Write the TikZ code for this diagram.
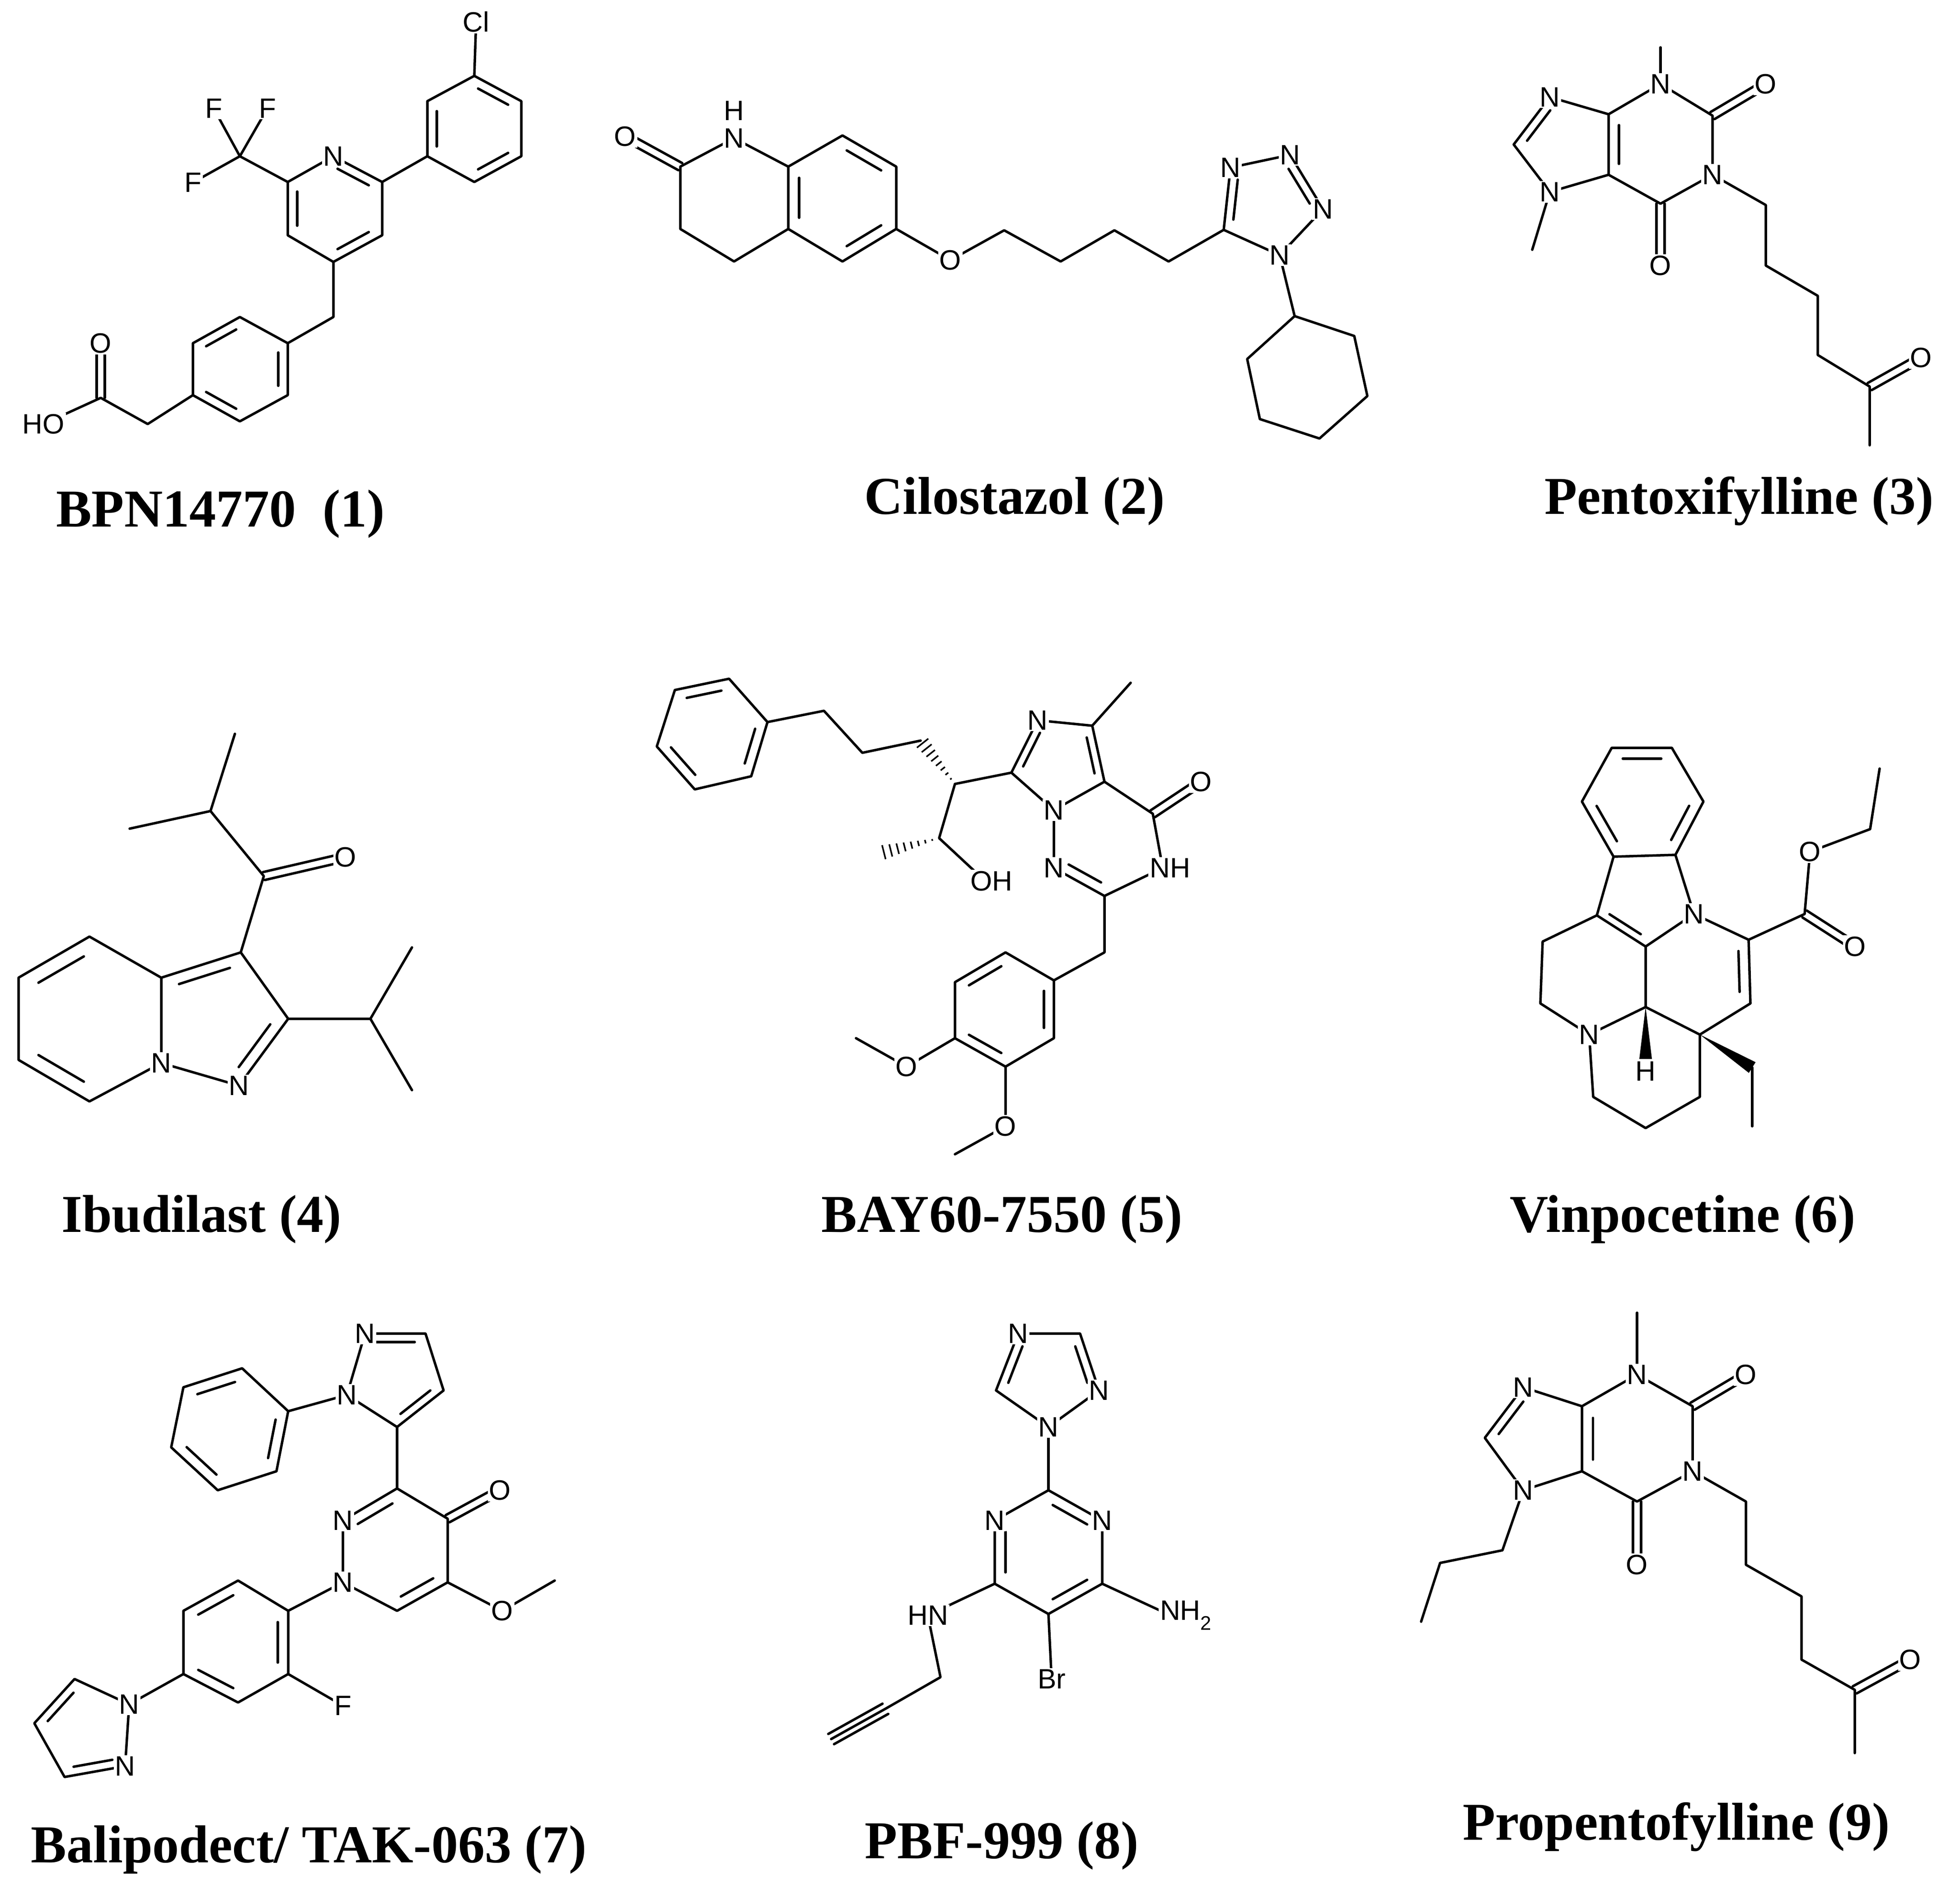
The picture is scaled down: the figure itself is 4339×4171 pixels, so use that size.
\documentclass[tikz,border=0pt]{standalone}
\usepackage{fontspec}
\setmainfont{Liberation Serif}
\setsansfont{Liberation Sans}
\usetikzlibrary{calc}
\newcommand\DB[3]{\path ($(#1)!0.2!(#3)$) coordinate (tA) ($(#2)!0.2!(#3)$) coordinate (tB); \draw[bond] ($(tA)!0.1!(tB)$) -- ($(tB)!0.1!(tA)$);}
\newcommand\DO[2]{\draw[bond] ($(#1)!9pt!90:(#2)$) -- ($(#2)!9pt!-90:(#1)$); \draw[bond] ($(#1)!9pt!-90:(#2)$) -- ($(#2)!9pt!90:(#1)$);}
\newcommand\HW[2]{\foreach \i in {1,...,8}{\path ($(#1)!\i/8.5!(#2)$) coordinate (hP); \draw[line width=3.5pt] ($(hP)!\i*2pt!90:(#2)$) -- ($(hP)!\i*2pt!-90:(#2)$);}}
\newcommand\SW[2]{\fill (#1) -- ($(#2)!14pt!90:(#1)$) -- ($(#2)!14pt!-90:(#1)$) -- cycle;}
\tikzset{bond/.style={line width=5.5pt,line cap=round,line join=round},
 atom/.style={fill=white,inner sep=3pt,font=\fontsize{62}{66}\selectfont\sffamily},
 capt/.style={font=\fontsize{118}{125}\selectfont\bfseries}}
\begin{document}
\begin{tikzpicture}[x=1pt,y=-1pt]
\useasboundingbox[fill=white] (0,0) rectangle (4339,4171);
% ---------- 1 BPN14770
\draw[bond] (1054,48)--(1050,168);
\draw[bond] (1050,168)--(1154,224)--(1154,346)--(1050,403)--(946,346)--(946,224)--cycle;
\DB{1050,168}{1154,224}{1050,286}\DB{1154,346}{1050,403}{1050,286}\DB{946,346}{946,224}{1050,286}
\draw[bond] (738,346)--(846,403)--(846,521)--(738,580)--(637,521)--(637,403)--cycle;
\DB{738,346}{846,403}{741,462}\DB{846,521}{738,580}{741,462}\DB{637,521}{637,403}{741,462}
\draw[bond] (846,403)--(946,346);
\draw[bond] (637,403)--(531,346)--(473,240) (531,346)--(592,240) (531,346)--(427,404);
\draw[bond] (738,580)--(738,702)--(637,760);
\draw[bond] (637,760)--(637,875)--(531,933)--(427,875)--(427,760)--(531,702)--cycle;
\DB{531,702}{427,760}{532,817}\DB{637,760}{637,875}{532,817}\DB{531,933}{427,875}{532,817}
\draw[bond] (427,875)--(327,939)--(223,881)--(96,939);
\DO{223,881}{223,760}
\node[atom] at (1054,48) {Cl};
\node[atom] at (738,346) {N};
\node[atom] at (473,240) {F};\node[atom] at (592,240) {F};\node[atom] at (427,404) {F};
\node[atom] at (223,760) {O};\node[atom] at (96,939) {HO};
\node[capt] at (488,1138) {BPN14770\ \ (1)};
% ---------- 2 Cilostazol
\draw[bond] (1625,306)--(1506,369)--(1506,507)--(1625,579)--(1745,507)--(1745,369)--cycle;
\draw[bond] (1745,369)--(1865,300)--(1984,369)--(1984,507)--(1865,579)--(1745,507);
\DB{1745,369}{1745,507}{1865,438}\DB{1865,300}{1984,369}{1865,438}\DB{1984,507}{1865,579}{1865,438}
\DO{1506,369}{1384,302}
\draw[bond] (1984,507)--(2104,576)--(2223,510)--(2348,579)--(2467,510)--(2587,579)--(2709,509);
\draw[bond] (2709,509)--(2724,371)--(2856,343)--(2929,463)--(2833,565)--cycle;
\DB{2709,509}{2724,371}{2810,450}\DB{2856,343}{2929,463}{2810,450}
\draw[bond] (2833,565)--(2866,700);
\draw[bond] (2866,700)--(2998,744)--(3027,877)--(2921,971)--(2789,928)--(2761,795)--cycle;
\node[atom] at (1384,302) {O};
\node[atom] at (1625,306) {N};\node[atom,fill=none] at (1625,245) {H};
\node[atom] at (2104,576) {O};
\node[atom] at (2724,371) {N};\node[atom] at (2856,343) {N};\node[atom] at (2929,463) {N};\node[atom] at (2833,565) {N};
\node[capt] at (2246,1110) {Cilostazol (2)};
% ---------- 3 Pentoxifylline
\draw[bond] (3676,105)--(3676,186);
\draw[bond] (3676,186)--(3791,256)--(3791,387)--(3676,451)--(3561,387)--(3561,253)--cycle;
\DO{3791,256}{3909,186}\DO{3676,451}{3676,588}
\draw[bond] (3561,253)--(3431,215)--(3351,320)--(3431,425)--(3561,387) (3431,425)--(3392,553);
\DB{3561,253}{3561,387}{3676,320}\DB{3431,215}{3351,320}{3467,320}
\draw[bond] (3791,387)--(3909,454)--(3909,588)--(4024,655)--(4024,786)--(4139,856)--(4139,986);
\DO{4139,856}{4253,792}
\node[atom] at (3676,186) {N};\node[atom] at (3909,186) {O};\node[atom] at (3791,387) {N};
\node[atom] at (3676,588) {O};\node[atom] at (3431,215) {N};\node[atom] at (3431,425) {N};
\node[atom] at (4253,792) {O};
\node[capt] at (3850,1110) {Pentoxifylline (3)};
% ---------- 4 Ibudilast
\draw[bond] (520,1625)--(466,1796)--(287,1835) (466,1796)--(584,1940)--(533,2109);
\DO{584,1940}{765,1898}
\draw[bond] (533,2109)--(357,2165)--(357,2354)--(529,2404)--(638,2256)--cycle;
\DB{533,2109}{357,2165}{483,2258}\DB{638,2256}{529,2404}{483,2258}
\draw[bond] (638,2256)--(820,2256)--(912,2098) (820,2256)--(912,2414);
\draw[bond] (357,2165)--(198,2074)--(41,2165)--(41,2347)--(198,2439)--(357,2354);
\DB{198,2074}{41,2165}{199,2257}\DB{41,2347}{198,2439}{199,2257}
\node[atom] at (765,1898) {O};\node[atom] at (357,2354) {N};\node[atom] at (529,2404) {N};
\node[capt] at (446,2700) {Ibudilast (4)};
% ---------- 5 BAY60-7550
\draw[bond] (1494,1528)--(1614,1503)--(1699,1599)--(1663,1719)--(1538,1748)--(1454,1653)--cycle;
\DB{1494,1528}{1614,1503}{1577,1625}\DB{1699,1599}{1663,1719}{1577,1625}\DB{1538,1748}{1454,1653}{1577,1625}
\draw[bond] (1699,1599)--(1824,1574)--(1909,1667)--(2038,1640);
\HW{2114,1736}{2038,1640}
\draw[bond] (2114,1736)--(2239,1711) (2114,1736)--(2079,1856)--(2181,1951);
\HW{2079,1856}{1949,1889}
\draw[bond] (2239,1711)--(2297,1595)--(2418,1607)--(2445,1731)--(2333,1794)--cycle (2418,1607)--(2503,1512);
\DB{2239,1711}{2297,1595}{2346,1688}\DB{2418,1607}{2445,1731}{2346,1688}
\draw[bond] (2333,1794)--(2333,1922)--(2445,1984)--(2574,1922)--(2552,1802)--(2445,1731);
\DB{2333,1922}{2445,1984}{2452,1859}
\DO{2552,1802}{2659,1731}
\draw[bond] (2445,1984)--(2445,2109)--(2333,2171);
\draw[bond] (2333,2171)--(2333,2299)--(2226,2362)--(2114,2299)--(2114,2175)--(2226,2109)--cycle;
\DB{2226,2109}{2114,2175}{2224,2236}\DB{2114,2299}{2226,2362}{2224,2236}\DB{2333,2299}{2333,2171}{2224,2236}
\draw[bond] (2114,2299)--(2007,2362)--(1895,2299) (2226,2362)--(2226,2494)--(2114,2556);
\node[atom] at (2297,1595) {N};\node[atom] at (2333,1794) {N};\node[atom] at (2333,1922) {N};
\node[atom] at (2590,1922) {NH};\node[atom] at (2659,1731) {O};\node[atom] at (2195,1951) {OH};
\node[atom] at (2007,2362) {O};\node[atom] at (2226,2494) {O};
\node[capt] at (2218,2700) {BAY60-7550 (5)};
% ---------- 6 Vinpocetine
\draw[bond] (3568,1656)--(3701,1656)--(3771,1775)--(3709,1893)--(3572,1897)--(3502,1775)--cycle;
\DB{3568,1656}{3701,1656}{3637,1775}\DB{3771,1775}{3709,1893}{3637,1775}\DB{3502,1775}{3572,1897}{3637,1775}
\draw[bond] (3709,1893)--(3750,2024)--(3643,2096)--(3535,2027)--(3572,1897);
\DB{3643,2096}{3535,2027}{3632,1987}
\draw[bond] (3535,2027)--(3415,2085)--(3410,2222)--(3518,2291)--(3643,2230)--(3643,2096);
\draw[bond] (3518,2291)--(3527,2429)--(3643,2498)--(3763,2429)--(3763,2291)--(3643,2230);
\draw[bond] (3763,2291)--(3875,2222)--(3871,2081)--(3750,2024);
\DB{3875,2222}{3871,2081}{3757,2150}
\draw[bond] (3871,2081)--(3995,2024)--(4007,1886)--(4140,1836)--(4161,1702);
\DO{3995,2024}{4107,2096}
\SW{3643,2230}{3643,2345}
\SW{3763,2291}{3879,2364}
\draw[bond] (3879,2364)--(3879,2494);
\node[atom] at (3750,2024) {N};\node[atom] at (3518,2291) {N};\node[atom,fill=none] at (3643,2372) {H};
\node[atom] at (4007,1886) {O};\node[atom] at (4107,2096) {O};
\node[capt] at (3725,2700) {Vinpocetine (6)};
% ---------- 7 Balipodect
\draw[bond] (808,2953)--(942,2953)--(982,3079)--(879,3160)--(768,3089)--cycle;
\DB{808,2953}{942,2953}{876,3047}\DB{982,3079}{879,3160}{876,3047}
\draw[bond] (768,3089)--(638,3125);
\draw[bond] (638,3125)--(536,3030)--(406,3072)--(379,3205)--(482,3300)--(612,3258)--cycle;
\DB{536,3030}{406,3072}{509,3165}\DB{379,3205}{482,3300}{509,3165}\DB{612,3258}{638,3125}{509,3165}
\draw[bond] (879,3160)--(879,3296);
\draw[bond] (879,3296)--(759,3367)--(759,3504)--(879,3567)--(991,3504)--(991,3363)--cycle;
\DB{879,3296}{759,3367}{876,3434}\DB{879,3567}{991,3504}{876,3434}
\DO{991,3363}{1107,3300}
\draw[bond] (991,3504)--(1112,3567)--(1228,3500);
\draw[bond] (759,3504)--(638,3567);
\draw[bond] (638,3567)--(527,3500)--(406,3567)--(406,3707)--(527,3770)--(638,3707)--cycle;
\DB{527,3500}{406,3567}{522,3636}\DB{406,3707}{527,3770}{522,3636}\DB{638,3707}{638,3567}{522,3636}
\draw[bond] (638,3707)--(759,3777) (406,3707)--(286,3774);
\draw[bond] (286,3774)--(165,3718)--(76,3816)--(143,3935)--(277,3911)--cycle;
\DB{165,3718}{76,3816}{189,3831}\DB{143,3935}{277,3911}{189,3831}
\node[atom] at (808,2953) {N};\node[atom] at (768,3089) {N};\node[atom] at (759,3367) {N};
\node[atom] at (759,3504) {N};\node[atom] at (1107,3300) {O};\node[atom] at (1112,3567) {O};
\node[atom] at (759,3777) {F};\node[atom] at (286,3774) {N};\node[atom] at (277,3911) {N};
\node[capt] at (684,4096) {Balipodect/ TAK-063 (7)};
% ---------- 8 PBF-999
\draw[bond] (2254,2953)--(2391,2953)--(2433,3079)--(2321,3160)--(2205,3079)--cycle;
\DB{2205,3079}{2254,2953}{2321,3045}\DB{2391,2953}{2433,3079}{2321,3045}
\draw[bond] (2321,3160)--(2321,3300);
\draw[bond] (2321,3300)--(2440,3367)--(2440,3507)--(2321,3574)--(2202,3507)--(2202,3367)--cycle;
\DB{2321,3300}{2440,3367}{2321,3437}\DB{2440,3507}{2321,3574}{2321,3437}\DB{2202,3507}{2202,3367}{2321,3437}
\draw[bond] (2440,3507)--(2591,3577) (2321,3574)--(2328,3718) (2202,3507)--(2054,3577)--(2082,3714)--(1960,3784)--(1840,3851);
\draw[bond] ($(1960,3784)!13pt!90:(1840,3851)$)--($(1840,3851)!13pt!-90:(1960,3784)$);
\draw[bond] ($(1960,3784)!13pt!-90:(1840,3851)$)--($(1840,3851)!13pt!90:(1960,3784)$);
\node[atom] at (2254,2953) {N};\node[atom] at (2433,3079) {N};\node[atom] at (2321,3160) {N};
\node[atom] at (2440,3367) {N};\node[atom] at (2202,3367) {N};
\node[atom,anchor=west] at (2565,3577) {NH\textsubscript{2}};
\node[atom] at (2328,3718) {Br};\node[atom] at (2054,3577) {HN};
\node[capt] at (2218,4087) {PBF-999 (8)};
% ---------- 9 Propentofylline
\draw[bond] (3624,2907)--(3624,3044);
\draw[bond] (3624,3044)--(3747,3114)--(3747,3258)--(3624,3325)--(3502,3258)--(3502,3114)--cycle;
\DO{3747,3114}{3865,3044}\DO{3624,3325}{3624,3465}
\draw[bond] (3502,3114)--(3372,3072)--(3287,3184)--(3372,3300)--(3502,3258);
\DB{3502,3114}{3502,3258}{3624,3186}\DB{3372,3072}{3287,3184}{3407,3186}
\draw[bond] (3372,3300)--(3326,3433)--(3188,3461)--(3146,3591);
\draw[bond] (3747,3258)--(3865,3325)--(3865,3465)--(3988,3535)--(3988,3675)--(4106,3742)--(4106,3882);
\DO{4106,3742}{4229,3675}
\node[atom] at (3624,3044) {N};\node[atom] at (3865,3044) {O};\node[atom] at (3747,3258) {N};
\node[atom] at (3624,3465) {O};\node[atom] at (3372,3072) {N};\node[atom] at (3372,3300) {N};
\node[atom] at (4229,3675) {O};
\node[capt] at (3711,4046) {Propentofylline (9)};
\end{tikzpicture}
\end{document}
